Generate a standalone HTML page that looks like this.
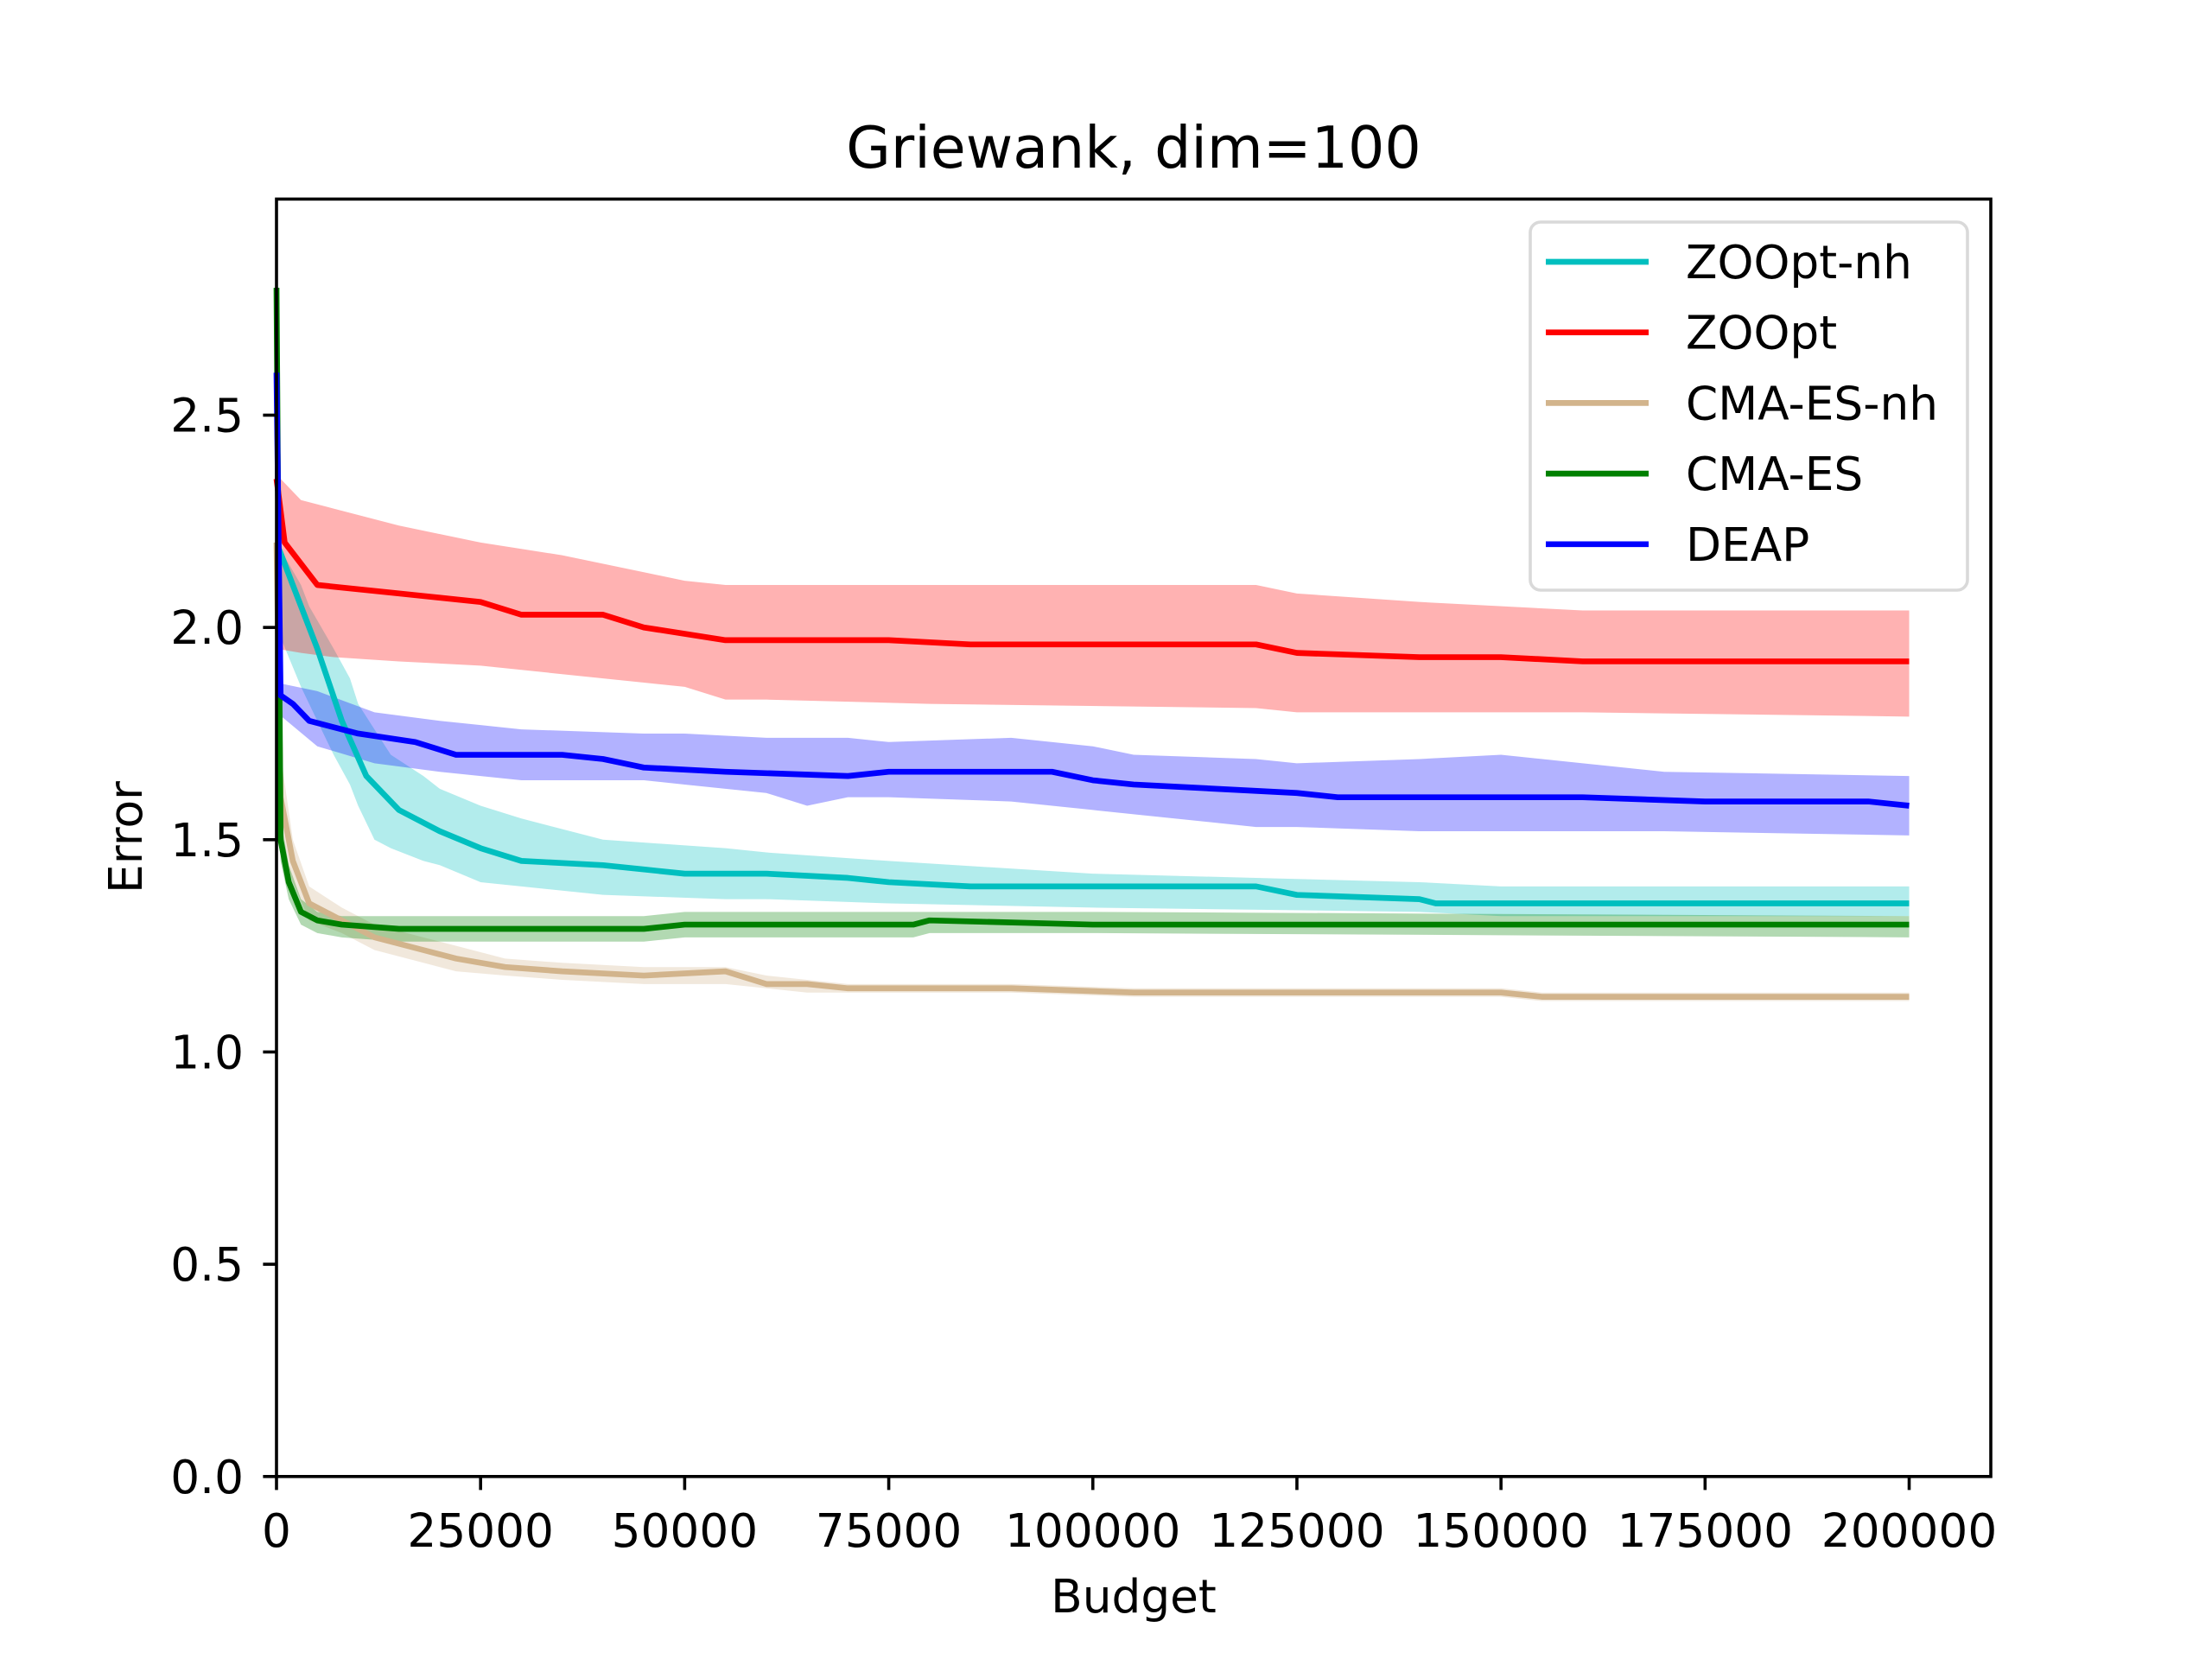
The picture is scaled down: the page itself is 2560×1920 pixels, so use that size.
<!DOCTYPE html>
<html><head><meta charset="utf-8"><style>
html,body{margin:0;padding:0;background:#fff;}
svg{display:block;font-family:"DejaVu Sans","Liberation Sans",sans-serif;}
</style></head><body>
<svg id="chart" width="2560" height="1920" viewBox="0 0 2560 1920" xmlns="http://www.w3.org/2000/svg">
<rect width="2560" height="1920" fill="#fff"/>
<text x="1312" y="194" font-size="66.6" text-anchor="middle">Griewank, dim=100</text>
<text x="1312" y="1866" font-size="53.3" text-anchor="middle">Budget</text>
<text transform="translate(164,969) rotate(-90)" font-size="53.3" text-anchor="middle">Error</text>
<g id="bands"></g><g id="lines"></g><g id="ticks"></g>
<rect x="320" y="230.4" width="1984" height="1478.4" fill="none" stroke="#000" stroke-width="3.6"/>
<g id="legend"></g>
</svg>
<script>
const xTicks=[0,25000,50000,75000,100000,125000,150000,175000,200000];
const yTicks=[0.0,0.5,1.0,1.5,2.0,2.5];
const seriesNames=["ZOOpt-nh","ZOOpt","CMA-ES-nh","CMA-ES","DEAP"];
const seriesColors=["#00bfbf","#ff0000","#d2b48c","#008000","#0000ff"];

const zoonhX=[0,2000,5000,8000,11000,15000,20000,25000,30000,40000,45000,50000,60000,70000,75000,85000,120000,125000,140000,142000,200000];
const zoonhY=[2.2,2.1,1.95,1.78,1.65,1.57,1.52,1.48,1.45,1.44,1.43,1.42,1.42,1.41,1.40,1.39,1.39,1.37,1.36,1.35,1.35];
const zoonhBX=[0,3000,4000,7000,9000,10000,12000,14000,18000,20000,25000,30000,40000,55000,60000,75000,100000,140000,150000,200000];
const zoonhHi=[2.2,2.1,2.05,1.95,1.88,1.82,1.76,1.70,1.65,1.62,1.58,1.55,1.50,1.48,1.47,1.45,1.42,1.40,1.39,1.39];
const zoonhLo=[2.0,1.86,1.82,1.70,1.63,1.58,1.50,1.48,1.45,1.44,1.40,1.39,1.37,1.36,1.36,1.35,1.34,1.33,1.32,1.32];

const zooX=[0,1000,5000,15000,25000,30000,40000,45000,55000,75000,85000,120000,125000,140000,150000,160000,200000];
const zooY=[2.35,2.2,2.1,2.08,2.06,2.03,2.03,2.0,1.97,1.97,1.96,1.96,1.94,1.93,1.93,1.92,1.92];
const zooBX=[0,3000,7000,15000,25000,35000,45000,50000,55000,60000,80000,120000,125000,140000,160000,200000];
const zooHi=[2.36,2.3,2.28,2.24,2.2,2.17,2.13,2.11,2.10,2.10,2.10,2.10,2.08,2.06,2.04,2.04];
const zooLo=[1.95,1.94,1.93,1.92,1.91,1.89,1.87,1.86,1.83,1.83,1.82,1.81,1.80,1.80,1.80,1.79];

const cmanhX=[0,500,2000,4000,8000,12000,18000,22000,28000,35000,45000,55000,60000,65000,70000,90000,105000,150000,155000,200000];
const cmanhY=[2.2,1.6,1.45,1.35,1.31,1.27,1.24,1.22,1.20,1.19,1.18,1.19,1.16,1.16,1.15,1.15,1.14,1.14,1.13,1.13];
const cmanhHi=[2.25,1.7,1.5,1.39,1.34,1.30,1.27,1.25,1.22,1.21,1.20,1.20,1.18,1.17,1.16,1.16,1.15,1.15,1.14,1.14];
const cmanhLo=[2.1,1.5,1.4,1.31,1.28,1.24,1.21,1.19,1.18,1.17,1.16,1.16,1.15,1.14,1.14,1.14,1.13,1.13,1.12,1.12];

const cmaX=[0,500,1500,3000,5000,8000,15000,45000,50000,78000,80000,100000,200000];
const cmaY=[2.8,1.5,1.4,1.33,1.31,1.30,1.29,1.29,1.30,1.30,1.31,1.30,1.30];
const cmaHi=[2.8,1.55,1.44,1.36,1.33,1.32,1.32,1.32,1.33,1.33,1.33,1.33,1.32];
const cmaLo=[2.8,1.45,1.36,1.30,1.28,1.27,1.26,1.26,1.27,1.27,1.28,1.28,1.27];

const deapX=[0,500,2000,4000,10000,17000,22000,35000,40000,45000,55000,70000,75000,95000,100000,105000,115000,125000,130000,160000,175000,195000,200000];
const deapY=[2.6,1.84,1.82,1.78,1.75,1.73,1.70,1.70,1.69,1.67,1.66,1.65,1.66,1.66,1.64,1.63,1.62,1.61,1.60,1.60,1.59,1.59,1.58];
const deapBX=[0,5000,12000,20000,25000,30000,45000,50000,60000,65000,70000,75000,90000,100000,105000,120000,125000,140000,150000,170000,200000];
const deapHi=[1.87,1.85,1.80,1.78,1.77,1.76,1.75,1.75,1.74,1.74,1.74,1.73,1.74,1.72,1.70,1.69,1.68,1.69,1.70,1.66,1.65];
const deapLo=[1.80,1.72,1.68,1.66,1.65,1.64,1.64,1.63,1.61,1.58,1.60,1.60,1.59,1.57,1.56,1.53,1.53,1.52,1.52,1.52,1.51];

const X0=320,X1=2304,Y0=1708.8,Y1=230.4,XMAX=210000,YMAX=3.009;
function sx(v){return X0+v/XMAX*(X1-X0);}
function sy(v){return Y0-v/YMAX*(Y0-Y1);}
const NS="http://www.w3.org/2000/svg";
function mk(t,a,p){const e=document.createElementNS(NS,t);for(const k in a)e.setAttribute(k,a[k]);p.appendChild(e);return e;}
const bands=document.getElementById('bands'),lines=document.getElementById('lines'),ticks=document.getElementById('ticks'),leg=document.getElementById('legend');

const bandDefs=[[zoonhBX,zoonhHi,zoonhLo,0],[zooBX,zooHi,zooLo,1],[cmanhX,cmanhHi,cmanhLo,2],[cmaX,cmaHi,cmaLo,3],[deapBX,deapHi,deapLo,4]];
bandDefs.forEach(d=>{
  let pts=d[0].map((x,i)=>sx(x)+','+sy(d[1][i]));
  for(let i=d[0].length-1;i>=0;i--)pts.push(sx(d[0][i])+','+sy(d[2][i]));
  const e=mk('polygon',{points:pts.join(' '),fill:seriesColors[d[3]],'fill-opacity':0.3},bands);
  
  
});
const lineDefs=[[zoonhX,zoonhY,0],[zooX,zooY,1],[cmanhX,cmanhY,2],[cmaX,cmaY,3],[deapX,deapY,4]];
lineDefs.forEach(d=>{
  const pts=d[0].map((x,i)=>sx(x)+','+sy(d[1][i])).join(' ');
  const e=mk('polyline',{points:pts,fill:'none',stroke:seriesColors[d[2]],'stroke-width':6.7,'stroke-linejoin':'round'},lines);
  
  
});
xTicks.forEach(t=>{
  const x=sx(t);
  mk('line',{x1:x,x2:x,y1:Y0,y2:Y0+15.6,stroke:'#000','stroke-width':3.6},ticks);
  const e=mk('text',{x:x,y:1790,'font-size':53.3,'text-anchor':'middle'},ticks);
  e.textContent=String(t);
  
  
});
yTicks.forEach(t=>{
  const y=sy(t);
  mk('line',{x1:X0-15.6,x2:X0,y1:y,y2:y,stroke:'#000','stroke-width':3.6},ticks);
  const e=mk('text',{x:282,y:y+19,'font-size':53.3,'text-anchor':'end'},ticks);
  e.textContent=t.toFixed(1);
  
  
});
mk('rect',{x:1771,y:257,width:506,height:426,rx:12,fill:'#fff','fill-opacity':0.8,stroke:'#d9d9d9','stroke-width':3.6},leg);
seriesNames.forEach((n,i)=>{
  const y=303+i*81.7;
  const l=mk('line',{x1:1789,x2:1908,y1:y,y2:y,stroke:seriesColors[i],'stroke-width':6.7},leg);
  
  
  const t=mk('text',{x:1951,y:y+19,'font-size':53.3},leg);
  t.textContent=n;
  
  
});
</script>
</body></html>
